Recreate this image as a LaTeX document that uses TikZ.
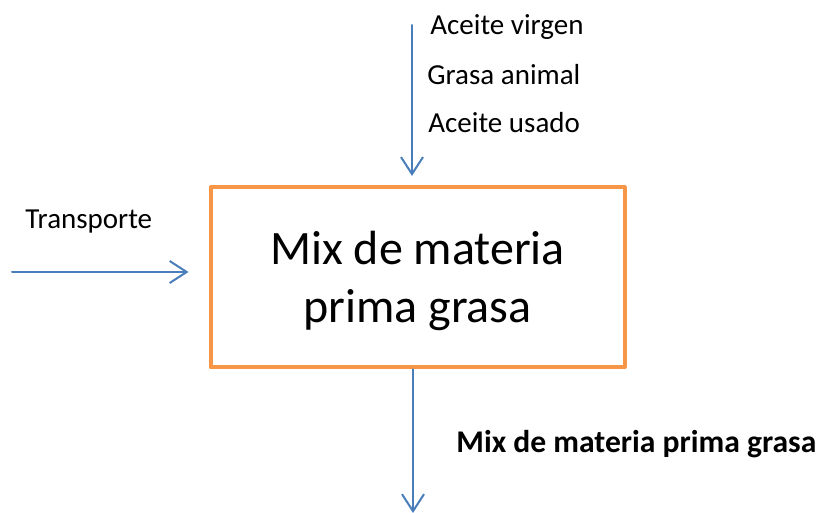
\documentclass[tikz,border=0pt]{standalone}
\usepackage{fontspec}
\setmainfont{Carlito}
\usepackage{tikz}
\usetikzlibrary{arrows.meta}
\definecolor{boxorange}{HTML}{F79646}
\definecolor{flowblue}{HTML}{4A7EBB}
\tikzstyle{flow} = [->, draw=flowblue, line width=1pt, >={Straight Barb[length=8.5pt,width=11pt]}]
\tikzstyle{procbox} = [draw=boxorange, line width=2pt, minimum width=207pt, minimum height=90pt, inner sep=0pt, align=center, text height=44.7pt, text depth=0pt, font=\fontsize{24}{29}\selectfont]
\tikzstyle{lbl} = [anchor=base west, inner sep=0pt, font=\fontsize{14.5}{17}\selectfont]

\begin{document}
\begin{tikzpicture}[x=0.5pt, y=-0.5pt, line cap=round, line join=round]
      \useasboundingbox (0,0) rectangle (823,513);
      \node[procbox] (box) at (417.5,277.3) {Mix de materia\\prima grasa};
      \coordinate (srcTop) at (412,25);
      \coordinate (srcLeft) at (12,272);
      \coordinate (outBot) at (413,513);
      \draw [flow, shorten >=4.7pt] (srcTop) -- (srcTop |- box.north);
      \draw [flow, shorten >=10pt] (srcLeft) -- (srcLeft -| box.west);
      \draw [flow] (outBot |- box.south) -- (outBot);
      \node[lbl] (lblVirgen) at (430,35) {Aceite virgen};
      \node[lbl] (lblAnimal) at (427,84.5) {Grasa animal};
      \node[lbl] (lblUsado) at (428,133) {Aceite usado};
      \node[lbl] (lblTransp) at (25,228) {Transporte};
      \node[lbl, font=\fontsize{15.8}{18}\selectfont\bfseries] (lblMix) at (456,452) {Mix de materia prima grasa};
    \end{tikzpicture}
\end{document}
